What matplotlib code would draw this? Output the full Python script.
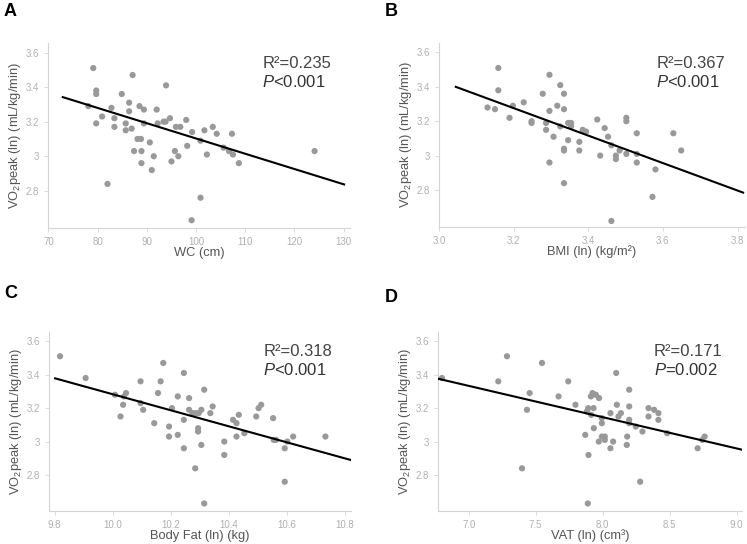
import numpy as np
import matplotlib
matplotlib.use("Agg")
import matplotlib.pyplot as plt

plt.rcParams['font.family'] = ['Liberation Sans', 'DejaVu Sans']
plt.rcParams['mathtext.fontset'] = 'custom'
plt.rcParams['mathtext.rm'] = 'Liberation Sans'
plt.rcParams['mathtext.it'] = 'Liberation Sans:italic'

# Panel A: waist circumference
wc_x = [78.1, 79.1, 79.7, 79.7, 79.7, 80.9, 82.0, 82.8, 83.4, 83.4, 84.9, 85.7, 85.7,
        86.4, 86.4, 86.9, 87.1, 87.4, 88.1, 88.5, 88.8, 88.9, 88.9, 89.4, 89.4, 90.6,
        91.0, 91.4, 92.0, 92.2, 93.4, 93.8, 93.9, 94.7, 95.0, 95.7, 95.9, 96.4, 96.8,
        98.0, 98.2, 99.2, 99.1, 100.9, 100.9, 101.7, 102.2, 103.4, 104.2, 105.6, 106.7,
        107.3, 107.5, 108.7, 124.1]
wc_y = [3.29, 3.51, 3.38, 3.36, 3.19, 3.23, 2.84, 3.28, 3.22, 3.17, 3.36, 3.19, 3.15,
        3.31, 3.26, 3.16, 3.47, 3.03, 3.10, 3.29, 3.10, 3.03, 2.96, 3.27, 3.19, 3.08,
        2.92, 3.00, 3.27, 3.19, 3.20, 3.20, 3.41, 3.22, 2.97, 3.03, 3.17, 3.00, 3.17,
        3.21, 3.06, 3.14, 2.63, 3.09, 2.76, 3.15, 3.01, 3.17, 3.13, 3.05, 3.03,
        3.13, 3.01, 2.96, 3.03]
wc_fit_x = [72.9, 130.1]
wc_fit_y = [3.342, 2.837]

# Panel B: BMI
bmi_x = [3.130, 3.150, 3.159, 3.159, 3.189, 3.198, 3.227, 3.248, 3.248, 3.278, 3.287,
         3.287, 3.296, 3.296, 3.296, 3.307, 3.317, 3.325, 3.325, 3.335, 3.335, 3.335,
         3.335, 3.335, 3.346, 3.346, 3.354, 3.354, 3.376, 3.376, 3.385, 3.394, 3.424,
         3.432, 3.444, 3.453, 3.462, 3.462, 3.474, 3.474, 3.484, 3.502, 3.502, 3.502,
         3.530, 3.530, 3.530, 3.580, 3.572, 3.628, 3.649]
bmi_y = [3.28, 3.27, 3.51, 3.38, 3.22, 3.29, 3.31, 3.20, 3.19, 3.36, 3.19,
         3.15, 3.47, 3.26, 2.96, 3.11, 3.29, 3.41, 3.17, 3.36, 3.27, 3.04,
         3.03, 2.84, 3.19, 3.09, 3.19, 3.17, 3.08, 3.03, 3.15, 3.14, 3.21,
         3.00, 3.16, 3.11, 3.06, 2.62, 3.00, 2.98, 3.03, 3.22, 3.20, 3.01,
         3.13, 3.01, 2.96, 2.92, 2.76, 3.13, 3.03]
bmi_fit_x = [3.045, 3.815]
bmi_fit_y = [3.40, 2.785]

# Panel C: body fat
fat_x = [9.819, 9.907, 10.008, 10.027, 10.036, 10.039, 10.046, 10.096, 10.096, 10.105,
         10.143, 10.156, 10.165, 10.174, 10.194, 10.194, 10.204, 10.224, 10.224, 10.245,
         10.245, 10.245, 10.263, 10.263, 10.275, 10.284, 10.286, 10.294, 10.294, 10.296,
         10.305, 10.305, 10.315, 10.315, 10.336, 10.344, 10.384, 10.384, 10.414, 10.426,
         10.426, 10.434, 10.453, 10.494, 10.502, 10.511, 10.552, 10.554, 10.562, 10.592,
         10.592, 10.601, 10.621, 10.732]
fat_y = [3.51, 3.38, 3.28, 3.15, 3.22, 3.27, 3.29, 3.36, 3.23, 3.19,
         3.11, 3.29, 3.36, 3.47, 3.09, 3.03, 3.20, 3.27, 3.04, 3.41,
         3.13, 2.96, 3.26, 3.19, 3.17, 2.84, 3.17, 3.08, 3.06, 3.17,
         3.19, 2.98, 3.31, 2.63, 3.17, 3.21, 3.00, 2.92, 3.13, 3.11,
         3.03, 3.16, 3.05, 3.15, 3.20, 3.22, 3.14, 3.01, 3.01, 2.96,
         2.76, 3.00, 3.03, 3.03]
fat_fit_x = [9.802, 10.817]
fat_fit_y = [3.378, 2.891]

# Panel D: visceral adipose tissue
vat_x = [6.801, 7.221, 7.286, 7.398, 7.435, 7.455, 7.547, 7.671, 7.743, 7.797, 7.870,
         7.882, 7.892, 7.894, 7.889, 7.912, 7.914, 7.924, 7.932, 7.934, 7.949, 7.973,
         7.971, 7.994, 7.994, 7.994, 8.016, 8.016, 8.058, 8.058, 8.078, 8.101, 8.106,
         8.118, 8.136, 8.180, 8.183, 8.198, 8.198, 8.198, 8.198, 8.247, 8.280, 8.297,
         8.342, 8.342, 8.384, 8.416, 8.416, 8.481, 8.709, 8.744, 8.761]
vat_y = [3.38, 3.36, 3.51, 2.84, 3.19, 3.29, 3.47, 3.27, 3.36, 3.22, 3.04,
         3.18, 3.20, 2.92, 2.63, 3.27, 3.16, 3.29, 3.20, 3.08, 3.28, 3.26,
         3.00, 3.11, 3.14, 3.03, 3.03, 3.01, 3.17, 2.96, 3.00, 3.41, 3.22,
         3.15, 3.17, 2.98, 3.03, 3.31, 3.21, 3.13, 3.11, 3.09, 2.76, 3.06,
         3.20, 3.15, 3.19, 3.17, 3.13, 3.05, 2.96, 3.01, 3.03]
vat_fit_x = [6.776, 9.037]
vat_fit_y = [3.375, 2.952]

panels = [
    ("A", wc_x, wc_y, wc_fit_x, wc_fit_y, "WC (cm)", "0.235", "<0.001",
     (69.9, 131.3), [70, 80, 90, 100, 110, 120, 130], ["70", "80", "90", "100", "110", "120", "130"]),
    ("B", bmi_x, bmi_y, bmi_fit_x, bmi_fit_y, "BMI (ln) (kg/m²)", "0.367", "<0.001",
     (3.015, 3.82), [3.0, 3.2, 3.4, 3.6, 3.8], ["3.0", "3.2", "3.4", "3.6", "3.8"]),
    ("C", fat_x, fat_y, fat_fit_x, fat_fit_y, "Body Fat (ln) (kg)", "0.318", "<0.001",
     (9.781, 10.82), [9.8, 10.0, 10.2, 10.4, 10.6, 10.8], ["9.8", "10.0", "10.2", "10.4", "10.6", "10.8"]),
    ("D", vat_x, vat_y, vat_fit_x, vat_fit_y, "VAT (ln) (cm³)", "0.171", "=0.002",
     (6.771, 9.04), [7.0, 7.5, 8.0, 8.5, 9.0], ["7.0", "7.5", "8.0", "8.5", "9.0"]),
]

y_ticks = [2.8, 3.0, 3.2, 3.4, 3.6]
y_labels = ["2.8", "3", "3.2", "3.4", "3.6"]

# axes boxes in pixels (left, right, top, bottom) on a 747x544 canvas
W, H = 747, 544
boxes = [(48, 350, 43, 228), (439, 745, 43, 227), (49, 351, 332, 511), (438, 742, 332, 511)]
letters_xy = [(4, 12), (385, 12), (4, 294), (385, 297)]

fig = plt.figure(figsize=(7.47, 5.44), dpi=100)

for (letter, x, y, fx, fy, xlabel, r2, p, xlim, xt, xtl), (l, r, t, b), (lx, ly) in zip(panels, boxes, letters_xy):
    w, h = r - l, b - t
    ax = fig.add_axes([l / W, 1 - b / H, w / W, h / H])
    ax.scatter(x, y, s=20, color="#999999", edgecolors="none", zorder=2)
    ax.plot(fx, fy, color="black", lw=1.5, zorder=3)
    ax.set_xlim(*xlim)
    ax.set_ylim(2.585, 3.655)
    ax.set_xticks(xt)
    ax.set_xticklabels(xtl)
    ax.set_yticks(y_ticks)
    ax.set_yticklabels(y_labels)
    for s in ["top", "right"]:
        ax.spines[s].set_visible(False)
    for s in ["left", "bottom"]:
        ax.spines[s].set_color("#d4d4d4")
        ax.spines[s].set_linewidth(0.8)
    ax.tick_params(colors="#d4d4d4", labelcolor="#b0b0b0", labelsize=7, length=3, width=0.6)
    ax.set_xlabel(xlabel, fontsize=9.3, color="#555555")
    ax.set_ylabel(r"VO$_2$peak (ln) (mL/kg/min)", fontsize=9.3, color="#555555")
    ax.xaxis.set_label_coords(0.5, -25 / h)
    ax.yaxis.set_label_coords(-33 / w, 0.5)
    ax.xaxis.label.set_va("center")
    ax.yaxis.label.set_va("center")
    ax.text(0.71, 0.89, "R²=" + r2, transform=ax.transAxes, fontsize=12,
            color="#444444", va="center", ha="left")
    ax.text(0.71, 0.79, "$P$" + p, transform=ax.transAxes, fontsize=12,
            color="#333333", va="center", ha="left")
    fig.text(lx / W, 1 - ly / H, letter, fontsize=13, fontweight="bold", va="center", ha="left")

fig.savefig("out.png", dpi=100)
